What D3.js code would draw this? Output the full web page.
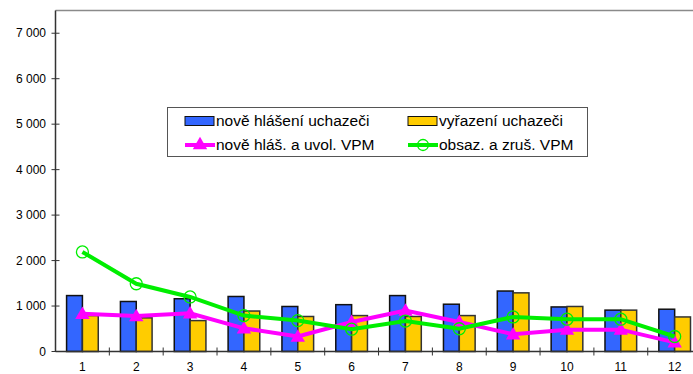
<!DOCTYPE html>
<html>
<head>
<meta charset="utf-8">
<script src="https://cdn.jsdelivr.net/npm/d3@7"></script>
<style>
  body { margin: 0; background: #fff; }
  text { font-family: "Liberation Sans", Arial, sans-serif; fill: #000; }
</style>
</head>
<body>
<div id="chart-area"></div>
<script>
// data
const months = ['1', '2', '3', '4', '5', '6', '7', '8', '9', '10', '11', '12']
const noveHlaseni = [1230, 1100, 1160, 1210, 990, 1030, 1230, 1040, 1330, 980, 910, 930]
const vyrazeni = [790, 740, 680, 890, 770, 790, 770, 790, 1290, 990, 910, 760]
const noveHlasVPM = [830, 780, 840, 510, 330, 650, 900, 650, 380, 480, 480, 200]
const obsazVPM = [2190, 1490, 1200, 790, 680, 490, 670, 500, 760, 710, 710, 330]
const yTicks = [0, 1000, 2000, 3000, 4000, 5000, 6000, 7000]

const W = 693, H = 374
const plot = { left: 55.5, top: 10.5, bottom: 351.5 }
const catW = 53.84

let svg = d3.select('#chart-area')
  .append('svg')
  .attr('width', W)
  .attr('height', H)

let x = d3.scaleBand()
  .domain(months)
  .range([plot.left, plot.left + catW * months.length])
  .paddingInner(0).paddingOuter(0)

let y = d3.scaleLinear()
  .domain([0, 7500])
  .range([plot.bottom, plot.top])

const fmt = d3.formatLocale({ decimal: ',', thousands: ' ', grouping: [3], currency: ['', ''] }).format(',d')

// top frame line
svg.append('line')
  .attr('x1', plot.left).attr('x2', W)
  .attr('y1', plot.top).attr('y2', plot.top)
  .attr('stroke', '#8a8a8a').attr('stroke-width', 1.5)

// bars
const barW = x.bandwidth() / 3.4
const off = (x.bandwidth() - 2 * barW) / 2

let bars = svg.append('g')
bars.selectAll('rect.blue')
  .data(noveHlaseni)
  .enter().append('rect')
  .attr('class', 'blue')
  .attr('x', (d, i) => x(months[i]) + off)
  .attr('y', d => y(d))
  .attr('width', barW)
  .attr('height', d => y(0) - y(d))
  .attr('fill', '#3366ff')
  .attr('stroke', '#111').attr('stroke-width', 1.5)

bars.selectAll('rect.yellow')
  .data(vyrazeni)
  .enter().append('rect')
  .attr('class', 'yellow')
  .attr('x', (d, i) => x(months[i]) + off + barW)
  .attr('y', d => y(d))
  .attr('width', barW)
  .attr('height', d => y(0) - y(d))
  .attr('fill', '#ffcc00')
  .attr('stroke', '#333').attr('stroke-width', 1.5)

// axes
let axes = svg.append('g')
axes.append('line')
  .attr('x1', plot.left).attr('x2', plot.left)
  .attr('y1', plot.top).attr('y2', plot.bottom)
  .attr('stroke', '#333').attr('stroke-width', 1.5)
axes.append('line')
  .attr('x1', plot.left).attr('x2', W)
  .attr('y1', plot.bottom).attr('y2', plot.bottom)
  .attr('stroke', '#333').attr('stroke-width', 1.5)

axes.selectAll('line.ytick')
  .data(yTicks)
  .enter().append('line')
  .attr('class', 'ytick')
  .attr('x1', plot.left - 4).attr('x2', plot.left + 4)
  .attr('y1', d => y(d)).attr('y2', d => y(d))
  .attr('stroke', '#333')

axes.selectAll('text.ylab')
  .data(yTicks)
  .enter().append('text')
  .attr('class', 'ylab')
  .attr('x', 46)
  .attr('y', d => y(d))
  .attr('dy', '0.35em')
  .attr('text-anchor', 'end')
  .attr('font-size', '12px')
  .text(d => fmt(d))

axes.selectAll('line.xtick')
  .data(months.slice(1))
  .enter().append('line')
  .attr('class', 'xtick')
  .attr('x1', d => x(d)).attr('x2', d => x(d))
  .attr('y1', plot.bottom - 4).attr('y2', plot.bottom + 4)
  .attr('stroke', '#333')

axes.selectAll('text.xlab')
  .data(months)
  .enter().append('text')
  .attr('class', 'xlab')
  .attr('x', d => x(d) + x.bandwidth() / 2)
  .attr('y', 371)
  .attr('text-anchor', 'middle')
  .attr('font-size', '12px')
  .text(d => d)

// lines
const cx = i => x(months[i]) + x.bandwidth() / 2
let line = d3.line().x((d, i) => cx(i)).y(d => y(d))
const tri = d3.symbol().type(d3.symbolTriangle).size(90)

svg.append('path')
  .datum(noveHlasVPM)
  .attr('d', line)
  .attr('fill', 'none')
  .attr('stroke', '#ff00ff').attr('stroke-width', 4)
svg.selectAll('path.tri')
  .data(noveHlasVPM)
  .enter().append('path')
  .attr('class', 'tri')
  .attr('d', tri)
  .attr('transform', (d, i) => 'translate(' + cx(i) + ',' + (y(d) + 1) + ')')
  .attr('fill', '#ff00ff')

svg.append('path')
  .datum(obsazVPM)
  .attr('d', line)
  .attr('fill', 'none')
  .attr('stroke', '#00ee00').attr('stroke-width', 4)
svg.selectAll('circle.mark')
  .data(obsazVPM)
  .enter().append('circle')
  .attr('class', 'mark')
  .attr('cx', (d, i) => cx(i))
  .attr('cy', d => y(d))
  .attr('r', 6)
  .attr('fill', 'none')
  .attr('stroke', '#00ee00').attr('stroke-width', 1.3)

// legend
let legend = svg.append('g')
legend.append('rect')
  .attr('x', 167.5).attr('y', 107.5)
  .attr('width', 420).attr('height', 49)
  .attr('fill', '#fff')
  .attr('stroke', '#555')

const items = [
  { name: 'nově hlášení uchazeči', kind: 'bar', color: '#3366ff', col: 0, row: 0 },
  { name: 'vyřazení uchazeči', kind: 'bar', color: '#ffcc00', col: 1, row: 0 },
  { name: 'nově hláš. a uvol. VPM', kind: 'tri', color: '#ff00ff', col: 0, row: 1 },
  { name: 'obsaz. a zruš. VPM', kind: 'circle', color: '#00ee00', col: 1, row: 1 }
]

items.forEach(it => {
  let row = legend.append('g')
    .attr('transform', 'translate(' + (it.col ? 408 : 185) + ',' + (it.row ? 145 : 121) + ')')
  if (it.kind === 'bar') {
    row.append('rect')
      .attr('x', 0).attr('y', -4.5)
      .attr('width', 29).attr('height', 9)
      .attr('fill', it.color)
      .attr('stroke', '#111')
  } else {
    row.append('line')
      .attr('x1', 0).attr('x2', 30)
      .attr('stroke', it.color).attr('stroke-width', 4)
    if (it.kind === 'tri') {
      row.append('path')
        .attr('d', tri)
        .attr('transform', 'translate(15,0)')
        .attr('fill', it.color)
    } else {
      row.append('circle')
        .attr('cx', 15).attr('r', 5.5)
        .attr('fill', 'none')
        .attr('stroke', it.color).attr('stroke-width', 1.3)
    }
  }
  row.append('text')
    .attr('x', 31)
    .attr('dy', '0.35em')
    .attr('font-size', '15.5px')
    .text(it.name)
})
</script>
</body>
</html>
